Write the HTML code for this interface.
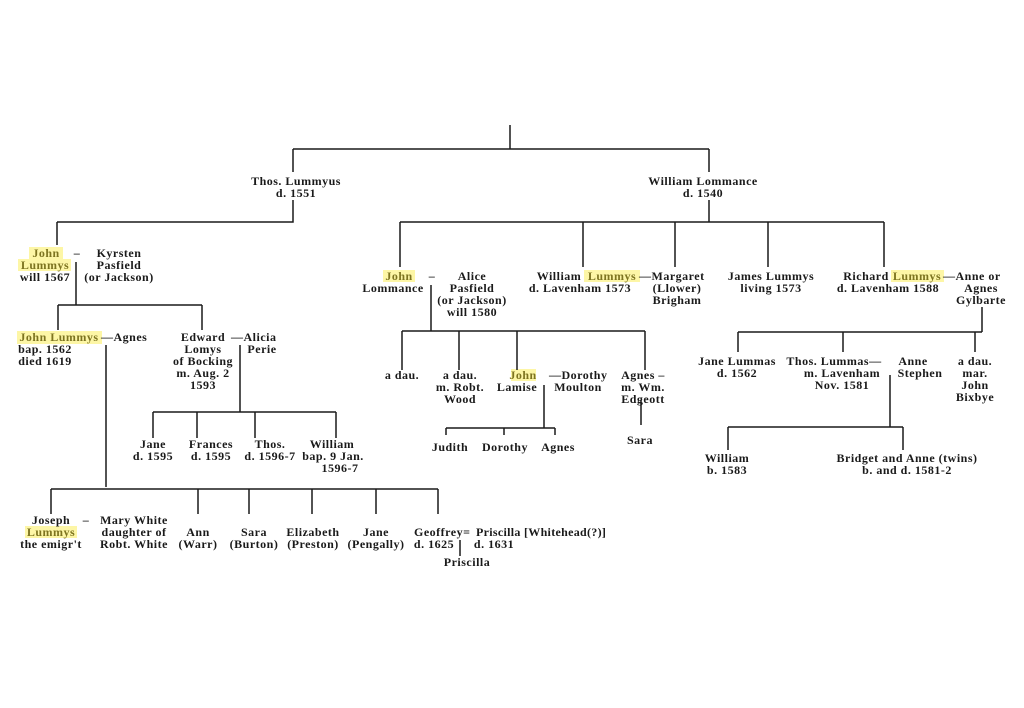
<!DOCTYPE html>
<html><head><meta charset="utf-8"><style>
html,body{margin:0;padding:0;background:#fff;}
svg{display:block}
text{font-family:"Liberation Serif",serif;font-weight:bold;font-size:12px;letter-spacing:0.5px;fill:#1a1a1a;text-anchor:middle}
.l{text-anchor:start}
.h{fill:#7d7420}
</style></head><body>
<svg width="1024" height="708" viewBox="0 0 1024 708">
<g fill="#fdf6a6">
<rect x="29" y="247" width="34" height="12"/>
<rect x="18" y="259" width="53" height="12"/>
<rect x="17" y="331" width="85" height="13"/>
<rect x="383" y="270" width="32" height="12"/>
<rect x="584" y="270" width="56" height="12"/>
<rect x="891" y="270" width="53" height="12"/>
<rect x="511" y="369" width="25" height="12"/>
<rect x="25" y="526" width="52" height="12"/>
</g>
<g stroke="#1a1a1a" stroke-width="1.5" fill="none">
<path d="M510 125V149M293 149H709M293 149V172M709 149V172"/>
<path d="M293 200V222H57M57 222V245"/>
<path d="M76 262V305M58 305H202M58 305V330M202 305V330"/>
<path d="M106 345V487M240 345V412M153 412H336M153 412V438M197 412V438M255 412V438M336 412V438"/>
<path d="M51 489H438M51 489V514M198 489V514M249 489V514M312 489V514M376 489V514M438 489V514M460 540V556"/>
<path d="M709 200V222M400 222H884M400 222V267M583 222V267M675 222V267M768 222V267M884 222V267"/>
<path d="M431 285V331M402 331H645M402 331V370M459 331V370M517 331V370M645 331V370"/>
<path d="M544 385V428M446 428H555M446 428V435M504 428V435M555 428V435M641 400V425"/>
<path d="M982 307V332M738 332H982M738 332V352M843 332V352M975 332V352"/>
<path d="M890 375V427M728 427H903M728 427V450M903 427V450"/>
</g>
<text x="296" y="185">Thos. Lummyus</text><text x="296" y="197">d. 1551</text>
<text x="703" y="185">William Lommance</text><text x="703" y="197">d. 1540</text>

<text x="46" y="257" class="h">John</text><text x="45" y="269" class="h">Lummys</text><text x="45" y="281">will 1567</text>
<text x="77" y="257">–</text>
<text x="119" y="257">Kyrsten</text><text x="119" y="269">Pasfield</text><text x="119" y="281">(or Jackson)</text>

<text x="59" y="341" class="h">John Lummys</text><text x="101" y="341" class="l">—Agnes</text>
<text x="45" y="353">bap. 1562</text><text x="45" y="365">died 1619</text>
<text x="203" y="341">Edward</text><text x="203" y="353">Lomys</text><text x="203" y="365">of Bocking</text><text x="203" y="377">m. Aug. 2</text><text x="203" y="389">1593</text>
<text x="231" y="341" class="l">—Alicia</text><text x="262" y="353">Perie</text>

<text x="153" y="448">Jane</text><text x="153" y="460">d. 1595</text>
<text x="211" y="448">Frances</text><text x="211" y="460">d. 1595</text>
<text x="270" y="448">Thos.</text><text x="270" y="460">d. 1596-7</text>
<text x="332" y="448">William</text><text x="333" y="460">bap. 9 Jan.</text><text x="340" y="472">1596-7</text>

<text x="51" y="524">Joseph</text><text x="51" y="536" class="h">Lummys</text><text x="51" y="548">the emigr't</text>
<text x="86" y="524">–</text>
<text x="134" y="524">Mary White</text><text x="134" y="536">daughter of</text><text x="134" y="548">Robt. White</text>
<text x="198" y="536">Ann</text><text x="198" y="548">(Warr)</text>
<text x="254" y="536">Sara</text><text x="254" y="548">(Burton)</text>
<text x="313" y="536">Elizabeth</text><text x="313" y="548">(Preston)</text>
<text x="376" y="536">Jane</text><text x="376" y="548">(Pengally)</text>
<text x="414" y="536" class="l">Geoffrey=</text><text x="476" y="536" class="l" style="letter-spacing:0.3px">Priscilla [Whitehead(?)]</text>
<text x="434" y="548">d. 1625</text><text x="494" y="548">d. 1631</text>
<text x="467" y="566">Priscilla</text>

<text x="399" y="280" class="h">John</text><text x="393" y="292">Lommance</text>
<text x="432" y="280">–</text>
<text x="472" y="280">Alice</text><text x="472" y="292">Pasfield</text><text x="472" y="304">(or Jackson)</text><text x="472" y="316">will 1580</text>
<text x="559" y="280">William</text><text x="612" y="280" class="h">Lummys</text><text x="639" y="280" class="l">—Margaret</text>
<text x="580" y="292">d. Lavenham 1573</text>
<text x="677" y="292">(Llower)</text><text x="677" y="304">Brigham</text>
<text x="771" y="280">James Lummys</text><text x="771" y="292">living 1573</text>
<text x="866" y="280">Richard</text><text x="917" y="280" class="h">Lummys</text><text x="943" y="280" class="l">—Anne  or</text>
<text x="888" y="292">d. Lavenham 1588</text>
<text x="981" y="292">Agnes</text><text x="981" y="304">Gylbarte</text>

<text x="402" y="379">a dau.</text>
<text x="460" y="379">a dau.</text><text x="460" y="391">m. Robt.</text><text x="460" y="403">Wood</text>
<text x="523" y="379" class="h">John</text><text x="517" y="391">Lamise</text>
<text x="549" y="379" class="l">—Dorothy</text><text x="578" y="391">Moulton</text>
<text x="643" y="379">Agnes –</text><text x="643" y="391">m. Wm.</text><text x="643" y="403">Edgeott</text>
<text x="450" y="451">Judith</text><text x="505" y="451">Dorothy</text><text x="558" y="451">Agnes</text>
<text x="640" y="444">Sara</text>

<text x="737" y="365">Jane Lummas</text><text x="737" y="377">d. 1562</text>
<text x="834" y="365">Thos. Lummas—</text><text x="842" y="377">m. Lavenham</text><text x="842" y="389">Nov. 1581</text>
<text x="913" y="365">Anne</text><text x="920" y="377">Stephen</text>
<text x="975" y="365">a dau.</text><text x="975" y="377">mar.</text><text x="975" y="389">John</text><text x="975" y="401">Bixbye</text>
<text x="727" y="462">William</text><text x="727" y="474">b. 1583</text>
<text x="907" y="462">Bridget and Anne (twins)</text><text x="907" y="474">b. and d. 1581-2</text>
</svg>
</body></html>
